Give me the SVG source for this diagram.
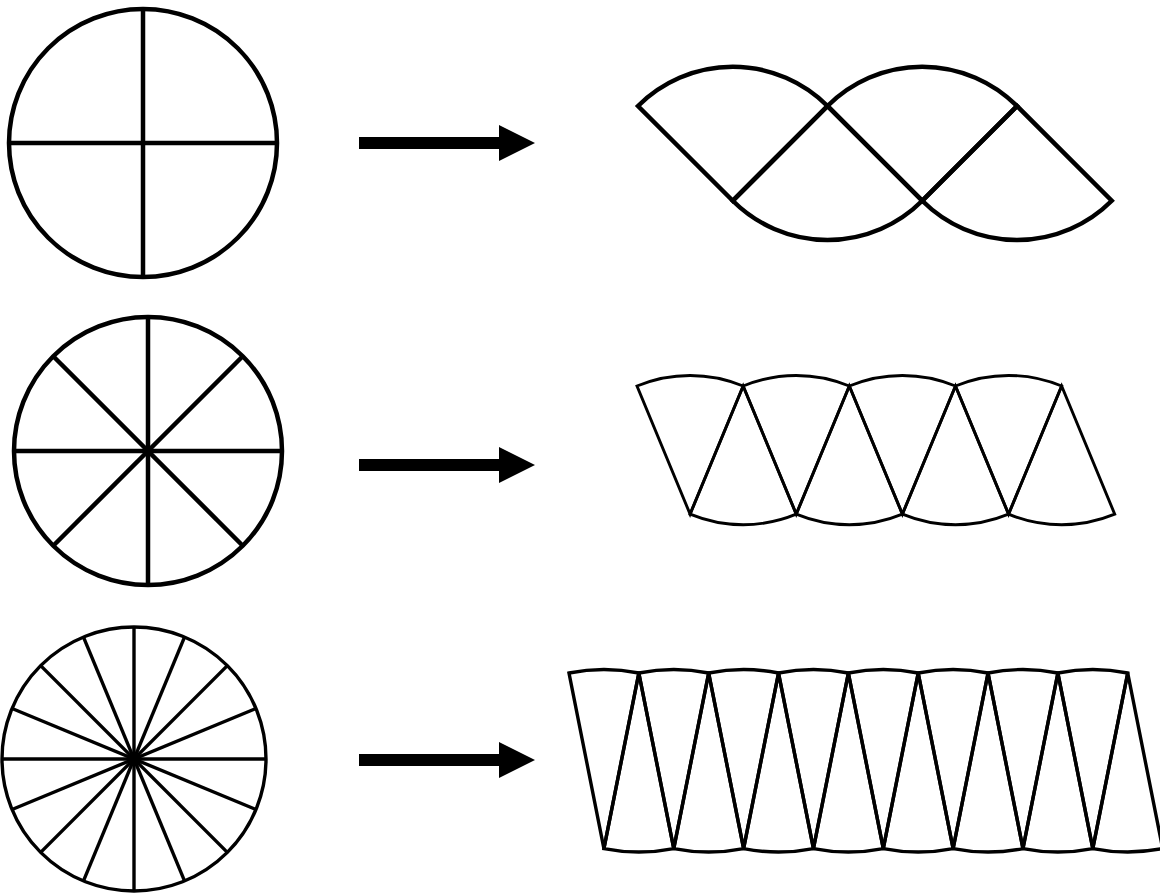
<svg xmlns="http://www.w3.org/2000/svg" width="1160" height="894" viewBox="0 0 1160 894">
<style>
.c{fill:none;stroke:#000;stroke-linejoin:miter;stroke-linecap:butt}
.w4{stroke-width:4.5}
.w3{stroke-width:3.4}
.w26{stroke-width:2.9}
.arr{fill:#000;stroke:none}
</style>
<defs>
<polygon id="arrow" class="arr" points="359,-6 499,-6 499,-18 535,0 499,18 499,6 359,6"/>
</defs>
<rect width="1160" height="894" fill="#fff"/>
<g id="circle4" class="c w4">
<circle cx="143" cy="143" r="134"/>
<line x1="143" y1="9" x2="143" y2="277"/>
<line x1="9" y1="143" x2="277" y2="143"/>
</g>
<g id="circle8" class="c w4">
<circle cx="148" cy="451" r="134"/>
<line x1="14" y1="451" x2="282" y2="451"/>
<line x1="148" y1="317" x2="148" y2="585"/>
<line x1="53.25" y1="356.25" x2="242.75" y2="545.75"/>
<line x1="242.75" y1="356.25" x2="53.25" y2="545.75"/>
</g>
<g id="circle16" class="c w3">
<circle cx="134" cy="759" r="132"/>
<line x1="2" y1="759" x2="266" y2="759"/>
<line x1="255.95" y1="708.49" x2="12.05" y2="809.51"/>
<line x1="227.34" y1="665.66" x2="40.66" y2="852.34"/>
<line x1="184.51" y1="637.05" x2="83.49" y2="880.95"/>
<line x1="134" y1="627" x2="134" y2="891"/>
<line x1="83.49" y1="637.05" x2="184.51" y2="880.95"/>
<line x1="40.66" y1="665.66" x2="227.34" y2="852.34"/>
<line x1="12.05" y1="708.49" x2="255.95" y2="809.51"/>
</g>
<g id="connectors">
<use href="#arrow" y="143"/>
<use href="#arrow" y="465"/>
<use href="#arrow" y="760"/>
</g>
<g id="strip4" class="c w4">
<path d="M732.75,200.75 L638,106 A134,134 0 0 1 827.5,106 Z"/>
<path d="M827.5,106 L732.75,200.75 A134,134 0 0 0 922.25,200.75 Z"/>
<path d="M922.25,200.75 L827.5,106 A134,134 0 0 1 1017,106 Z"/>
<path d="M1017,106 L922.25,200.75 A134,134 0 0 0 1111.75,200.75 Z"/>
</g>
<g id="strip8" class="c w26">
<path d="M690.08,514.14 L637,386 A138.7,138.7 0 0 1 743.16,386 Z"/>
<path d="M743.16,386 L690.08,514.14 A138.7,138.7 0 0 0 796.24,514.14 Z"/>
<path d="M796.24,514.14 L743.16,386 A138.7,138.7 0 0 1 849.32,386 Z"/>
<path d="M849.32,386 L796.24,514.14 A138.7,138.7 0 0 0 902.4,514.14 Z"/>
<path d="M902.4,514.14 L849.32,386 A138.7,138.7 0 0 1 955.48,386 Z"/>
<path d="M955.48,386 L902.4,514.14 A138.7,138.7 0 0 0 1008.56,514.14 Z"/>
<path d="M1008.56,514.14 L955.48,386 A138.7,138.7 0 0 1 1061.64,386 Z"/>
<path d="M1061.64,386 L1008.56,514.14 A138.7,138.7 0 0 0 1114.72,514.14 Z"/>
</g>
<g id="strip16" class="c w3">
<path d="M603.92,848.56 L569,673 A179,179 0 0 1 638.84,673 Z"/>
<path d="M638.84,673 L603.92,848.56 A179,179 0 0 0 673.76,848.56 Z"/>
<path d="M673.76,848.56 L638.84,673 A179,179 0 0 1 708.68,673 Z"/>
<path d="M708.68,673 L673.76,848.56 A179,179 0 0 0 743.6,848.56 Z"/>
<path d="M743.6,848.56 L708.68,673 A179,179 0 0 1 778.52,673 Z"/>
<path d="M778.52,673 L743.6,848.56 A179,179 0 0 0 813.44,848.56 Z"/>
<path d="M813.44,848.56 L778.52,673 A179,179 0 0 1 848.36,673 Z"/>
<path d="M848.36,673 L813.44,848.56 A179,179 0 0 0 883.28,848.56 Z"/>
<path d="M883.28,848.56 L848.36,673 A179,179 0 0 1 918.2,673 Z"/>
<path d="M918.2,673 L883.28,848.56 A179,179 0 0 0 953.12,848.56 Z"/>
<path d="M953.12,848.56 L918.2,673 A179,179 0 0 1 988.04,673 Z"/>
<path d="M988.04,673 L953.12,848.56 A179,179 0 0 0 1022.96,848.56 Z"/>
<path d="M1022.96,848.56 L988.04,673 A179,179 0 0 1 1057.88,673 Z"/>
<path d="M1057.88,673 L1022.96,848.56 A179,179 0 0 0 1092.8,848.56 Z"/>
<path d="M1092.8,848.56 L1057.88,673 A179,179 0 0 1 1127.72,673 Z"/>
<path d="M1127.72,673 L1092.8,848.56 A179,179 0 0 0 1162.64,848.56 Z"/>
</g>
</svg>
